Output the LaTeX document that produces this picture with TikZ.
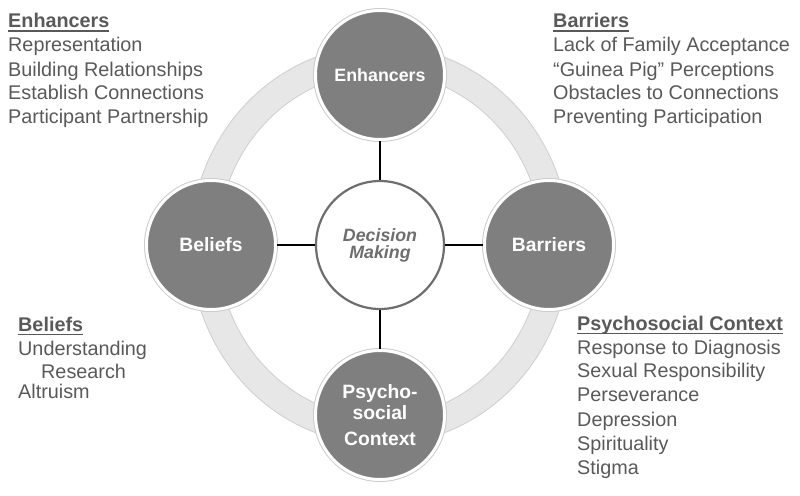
\documentclass[tikz,border=0pt]{standalone}
\usepackage{fontspec}
\setmainfont{Liberation Sans}
\usepackage{tikz}
\definecolor{CycleGray}{HTML}{7F7F7F}
\definecolor{CycleText}{HTML}{595959}
\definecolor{CycleHub}{HTML}{6E6E6E}
\definecolor{CycleRing}{HTML}{E7E7E7}
\definecolor{CycleRingEdge}{HTML}{D0D0D0}
\newcommand{\headul}[1]{\setbox0=\hbox{#1}\dp0=0pt\vtop{\box0\kern2.2pt\hrule height 1.6pt}}

\begin{document}
\begin{tikzpicture}[
  x=1pt,
  y=-1pt,
  every node/.style={font=\fontsize{19.8}{23}\selectfont, text=CycleText, inner sep=0pt},
  petal/.style={circle, minimum size=129pt, fill=CycleGray, draw=white, line width=3pt,
    preaction={draw=black!20, line width=5pt}, text=white, align=center,
    font=\fontsize{19.3}{21.3}\selectfont\bfseries},
  hub/.style={circle, minimum size=128pt, fill=white, draw=CycleHub, line width=2.2pt,
    text=CycleHub, align=center, font=\fontsize{17.8}{17}\selectfont\bfseries\itshape},
  link/.style={draw=black, line width=1.4pt},
  item/.style={anchor=base west}
]
\useasboundingbox (0,0) rectangle (800,495);

% ring behind the circles
\draw[CycleRingEdge, line width=28pt] (380,245) ellipse [x radius=176pt, y radius=186pt];
\draw[CycleRing, line width=26pt] (380,245) ellipse [x radius=176pt, y radius=186pt];

\node[hub] (dec) at (380,245) {Decision\\Making};
\node[petal, font=\fontsize{17.8}{21}\selectfont\bfseries] (enh) at (380,75) {Enhancers};
\node[petal] (bar) at (549,245) {Barriers};
\node[petal] (bel) at (211,245) {Beliefs};
\node[petal] (psy) at (380,415) {Psycho-\\social\\[4pt]Context};

\draw[link] (enh) -- (dec);
\draw[link] (bel) -- (dec);
\draw[link] (bar) -- (dec);
\draw[link] (psy) -- (dec);

% enhancers list
\node[item] (enhHead) at (8,28) {\headul{\textbf{Enhancers}}};
\node[item] (enhA) at (8,52) {Representation};
\node[item] (enhB) at (8,76) {Building Relationships};
\node[item] (enhC) at (8,99.5) {Establish Connections};
\node[item] (enhD) at (8,123) {Participant Partnership};

% barriers list
\node[item] (barHead) at (553,28) {\headul{\textbf{Barriers}}};
\node[item] (barA) at (553,52) {Lack of Family Acceptance};
\node[item] (barB) at (553,76) {“Guinea Pig” Perceptions};
\node[item] (barC) at (553,99.5) {Obstacles to Connections};
\node[item] (barD) at (553,123) {Preventing Participation};

% beliefs list
\node[item] (belHead) at (18,331.5) {\headul{\textbf{Beliefs}}};
\node[item] (belA) at (18,355) {Understanding};
\node[item] (belB) at (41,378.5) {Research};
\node[item] (belC) at (18,398.5) {Altruism};

% psychosocial list
\node[item] (psyHead) at (577,330.5) {\headul{\textbf{Psychosocial Context}}};
\node[item] (psyA) at (577,354) {Response to Diagnosis};
\node[item] (psyB) at (577,377.5) {Sexual Responsibility};
\node[item] (psyC) at (577,401.5) {Perseverance};
\node[item] (psyD) at (577,426) {Depression};
\node[item] (psyE) at (577,450) {Spirituality};
\node[item] (psyF) at (577,474) {Stigma};
\end{tikzpicture}
\end{document}
